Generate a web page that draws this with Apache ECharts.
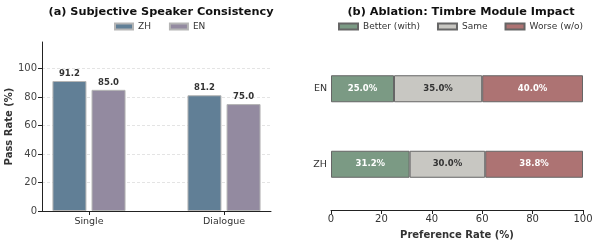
<!DOCTYPE html>
<html><head><meta charset="utf-8">
<script src="https://cdn.jsdelivr.net/npm/echarts@6/dist/echarts.min.js"></script>
<style>html,body{margin:0;padding:0;background:#fff}#c{width:598px;height:245px}</style>
</head><body><div id="c"></div>
<script>
var categoriesA = ['Single', 'Dialogue'];
var zhPass = [91.2, 81.2];
var enPass = [85.0, 75.0];
var langsB = ['ZH', 'EN'];
var betterWith = [31.2, 25.0];
var sameRate = [30.0, 35.0];
var worseWithout = [38.8, 40.0];

var FONT = 'DejaVu Sans';
var chart = echarts.init(document.getElementById('c'), null, {renderer: 'canvas'});
function pts(arr) { return arr.map(function (v, i) { return [i, v]; }); }
function pct(p) { return p.value.toFixed(1) + '%'; }

chart.setOption({
  animation: false,
  textStyle: {fontFamily: FONT},
  title: [
    {text: '(a) Subjective Speaker Consistency', left: 156, textAlign: 'center', top: 2,
     textStyle: {fontFamily: FONT, fontSize: 11.3, fontWeight: 'bold', color: '#111'}},
    {text: '(b) Ablation: Timbre Module Impact', left: 456, textAlign: 'center', top: 2,
     textStyle: {fontFamily: FONT, fontSize: 11.3, fontWeight: 'bold', color: '#111'}}
  ],
  legend: [
    {data: ['ZH', 'EN'], left: 109, top: 17, icon: 'rect', itemWidth: 18, itemHeight: 6, itemGap: 18,
     textStyle: {fontFamily: FONT, fontSize: 9, color: '#333'}},
    {data: ['Better (with)', 'Same', 'Worse (w/o)'], left: 333, top: 17, icon: 'rect', itemWidth: 19, itemHeight: 6, itemGap: 17,
     textStyle: {fontFamily: FONT, fontSize: 9, color: '#333'}}
  ],
  grid: [
    {left: 42, top: 42, width: 229, height: 169},
    {left: 331, top: 51, width: 252, height: 152}
  ],
  xAxis: [
    {type: 'value', gridIndex: 0, min: -0.348, max: 1.348,
     axisLine: {show: true, onZero: false, lineStyle: {color: '#222', width: 1}},
     axisTick: {show: true, length: 4, customValues: [0, 1], lineStyle: {color: '#222'}},
     axisLabel: {customValues: [0, 1], margin: 6, fontSize: 9.5, color: '#333', fontFamily: FONT,
       formatter: function (v) { return categoriesA[Math.round(v)]; }},
     splitLine: {show: false}},
    {type: 'value', gridIndex: 1, min: 0, max: 100, interval: 20, offset: 8,
     axisLine: {show: true, onZero: false, lineStyle: {color: '#222', width: 1}},
     axisTick: {show: true, length: 4, lineStyle: {color: '#222'}},
     axisLabel: {margin: 4, fontSize: 10, color: '#333', fontFamily: FONT},
     splitLine: {show: false},
     name: 'Preference Rate (%)', nameLocation: 'middle', nameGap: 20,
     nameTextStyle: {fontFamily: FONT, fontSize: 10, fontWeight: 'bold', color: '#333'}}
  ],
  yAxis: [
    {type: 'value', gridIndex: 0, min: 0, max: 118.56, interval: 20,
     axisLine: {show: true, onZero: false, lineStyle: {color: '#222', width: 1}},
     axisTick: {show: true, length: 4, lineStyle: {color: '#222'}},
     axisLabel: {margin: 5, fontSize: 10, color: '#444', fontFamily: FONT, showMaxLabel: false},
     splitLine: {show: true, showMaxLine: false, lineStyle: {color: '#ddd', type: [3, 2], width: 0.8}},
     name: 'Pass Rate (%)', nameLocation: 'middle', nameGap: 27,
     nameTextStyle: {fontFamily: FONT, fontSize: 10, fontWeight: 'bold', color: '#333'}},
    {type: 'category', gridIndex: 1, data: langsB,
     axisLine: {show: false}, axisTick: {show: false},
     axisLabel: {margin: 4, fontSize: 9.5, color: '#333', fontFamily: FONT}}
  ],
  series: [
    {name: 'ZH', type: 'bar', xAxisIndex: 0, yAxisIndex: 0, data: pts(zhPass), barWidth: 34, barGap: '15%',
     itemStyle: {color: '#617f96', borderColor: '#b5b5b5', borderWidth: 1},
     label: {show: true, position: 'top', distance: 3, fontSize: 8.5, fontWeight: 'bold', color: '#333', fontFamily: FONT,
       formatter: function (p) { return p.value[1].toFixed(1); }}},
    {name: 'EN', type: 'bar', xAxisIndex: 0, yAxisIndex: 0, data: pts(enPass), barWidth: 34, barGap: '15%',
     itemStyle: {color: '#938aa0', borderColor: '#b5b5b5', borderWidth: 1},
     label: {show: true, position: 'top', distance: 3, fontSize: 8.5, fontWeight: 'bold', color: '#333', fontFamily: FONT,
       formatter: function (p) { return p.value[1].toFixed(1); }}},
    {name: 'Better (with)', type: 'bar', xAxisIndex: 1, yAxisIndex: 1, stack: 'b', data: betterWith, barWidth: 27,
     itemStyle: {color: '#7b9a84', borderColor: '#666', borderWidth: 1},
     label: {show: true, position: 'inside', fontSize: 8.5, fontWeight: 'bold', color: '#fff', fontFamily: FONT, formatter: pct}},
    {name: 'Same', type: 'bar', xAxisIndex: 1, yAxisIndex: 1, stack: 'b', data: sameRate, barWidth: 27,
     itemStyle: {color: '#c8c7c2', borderColor: '#666', borderWidth: 1},
     label: {show: true, position: 'inside', fontSize: 8.5, fontWeight: 'bold', color: '#333', fontFamily: FONT, formatter: pct}},
    {name: 'Worse (w/o)', type: 'bar', xAxisIndex: 1, yAxisIndex: 1, stack: 'b', data: worseWithout, barWidth: 27,
     itemStyle: {color: '#ad7373', borderColor: '#666', borderWidth: 1},
     label: {show: true, position: 'inside', fontSize: 8.5, fontWeight: 'bold', color: '#fff', fontFamily: FONT, formatter: pct}}
  ]
});
</script></body></html>
